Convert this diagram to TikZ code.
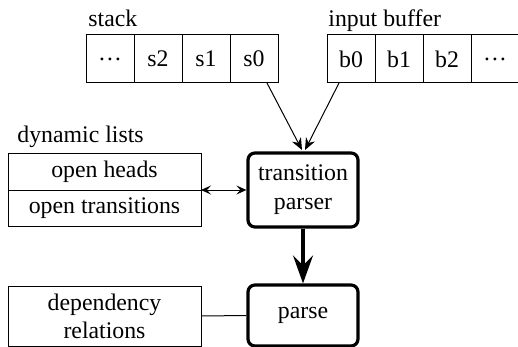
\documentclass[tikz,border=0pt]{standalone}
\usepackage{fontspec}
\setmainfont{Liberation Serif}
\usetikzlibrary{arrows.meta}
\begin{document}
\begin{tikzpicture}[x=0.5pt,y=-0.5pt,
  every node/.style={font=\rmfamily\fontsize{11.9}{14.5}\selectfont, inner sep=0pt},
  cell/.style={draw, line width=0.5pt, minimum width=24pt, minimum height=24pt},
  lcell/.style={draw, line width=0.5pt, minimum width=96.5pt, minimum height=18pt},
  proc/.style={draw, line width=1.6pt, rounded corners=3.5pt, minimum width=55pt, align=center},
  thin/.style={line width=0.5pt},
  lbl/.style={anchor=base west}
]
\useasboundingbox (0,0) rectangle (518,347);
% stack
\node[lbl] (stacklbl) at (88,27) {stack};
\node[cell] (sd) at (110,59) {\dots};
\node[cell] (s2) at (158,59) {s2};
\node[cell] (s1) at (206,59) {s1};
\node[cell] (s0) at (254,59) {s0};
% buffer
\node[lbl] (buflbl) at (328,27) {input buffer};
\node[cell] (b0) at (351,59) {b0};
\node[cell] (b1) at (399,59) {b1};
\node[cell] (b2) at (447,59) {b2};
\node[cell] (bd) at (495,59) {\dots};
% dynamic lists
\node[lbl] (dynlbl) at (17,143) {dynamic lists};
\node[lcell] (heads) at (104.5,172) {open heads};
\node[lcell] (trans) at (104.5,208) {open transitions};
% parser
\node[proc, minimum height=37pt] (parser) at (303,190) {transition\\parser};
\node[proc, minimum height=30.5pt] (parse) at (303,315.5) {parse};
% dependency relations
\node[draw, thin, minimum width=96.5pt, minimum height=30pt, align=center, font=\rmfamily\fontsize{11.9}{14}\selectfont] (dep) at (104.5,316) {dependency\\relations};
% connectors
\coordinate (s0out) at (267,83);
\coordinate (b0out) at (339,83);
\coordinate (pin1) at (302,150);
\coordinate (pin2) at (305,150);
\coordinate (lists) at (201,190);
\draw[thin, -{Stealth[length=6pt,width=5pt,inset=2pt]}] (s0out) -- (pin1);
\draw[thin, -{Stealth[length=6pt,width=5pt,inset=2pt]}] (b0out) -- (pin2);
\draw[thin, {Stealth[length=5pt,width=4.5pt,inset=2pt]}-{Stealth[length=5pt,width=4.5pt,inset=2pt]}] (lists) -- (parser.west);
\draw[line width=1.6pt, -{Stealth[length=14pt,width=10pt,inset=5pt]}] (parser.south) -- (parse.north);
\draw[thin] (dep.east) -- (parse.west);
\end{tikzpicture}
\end{document}
